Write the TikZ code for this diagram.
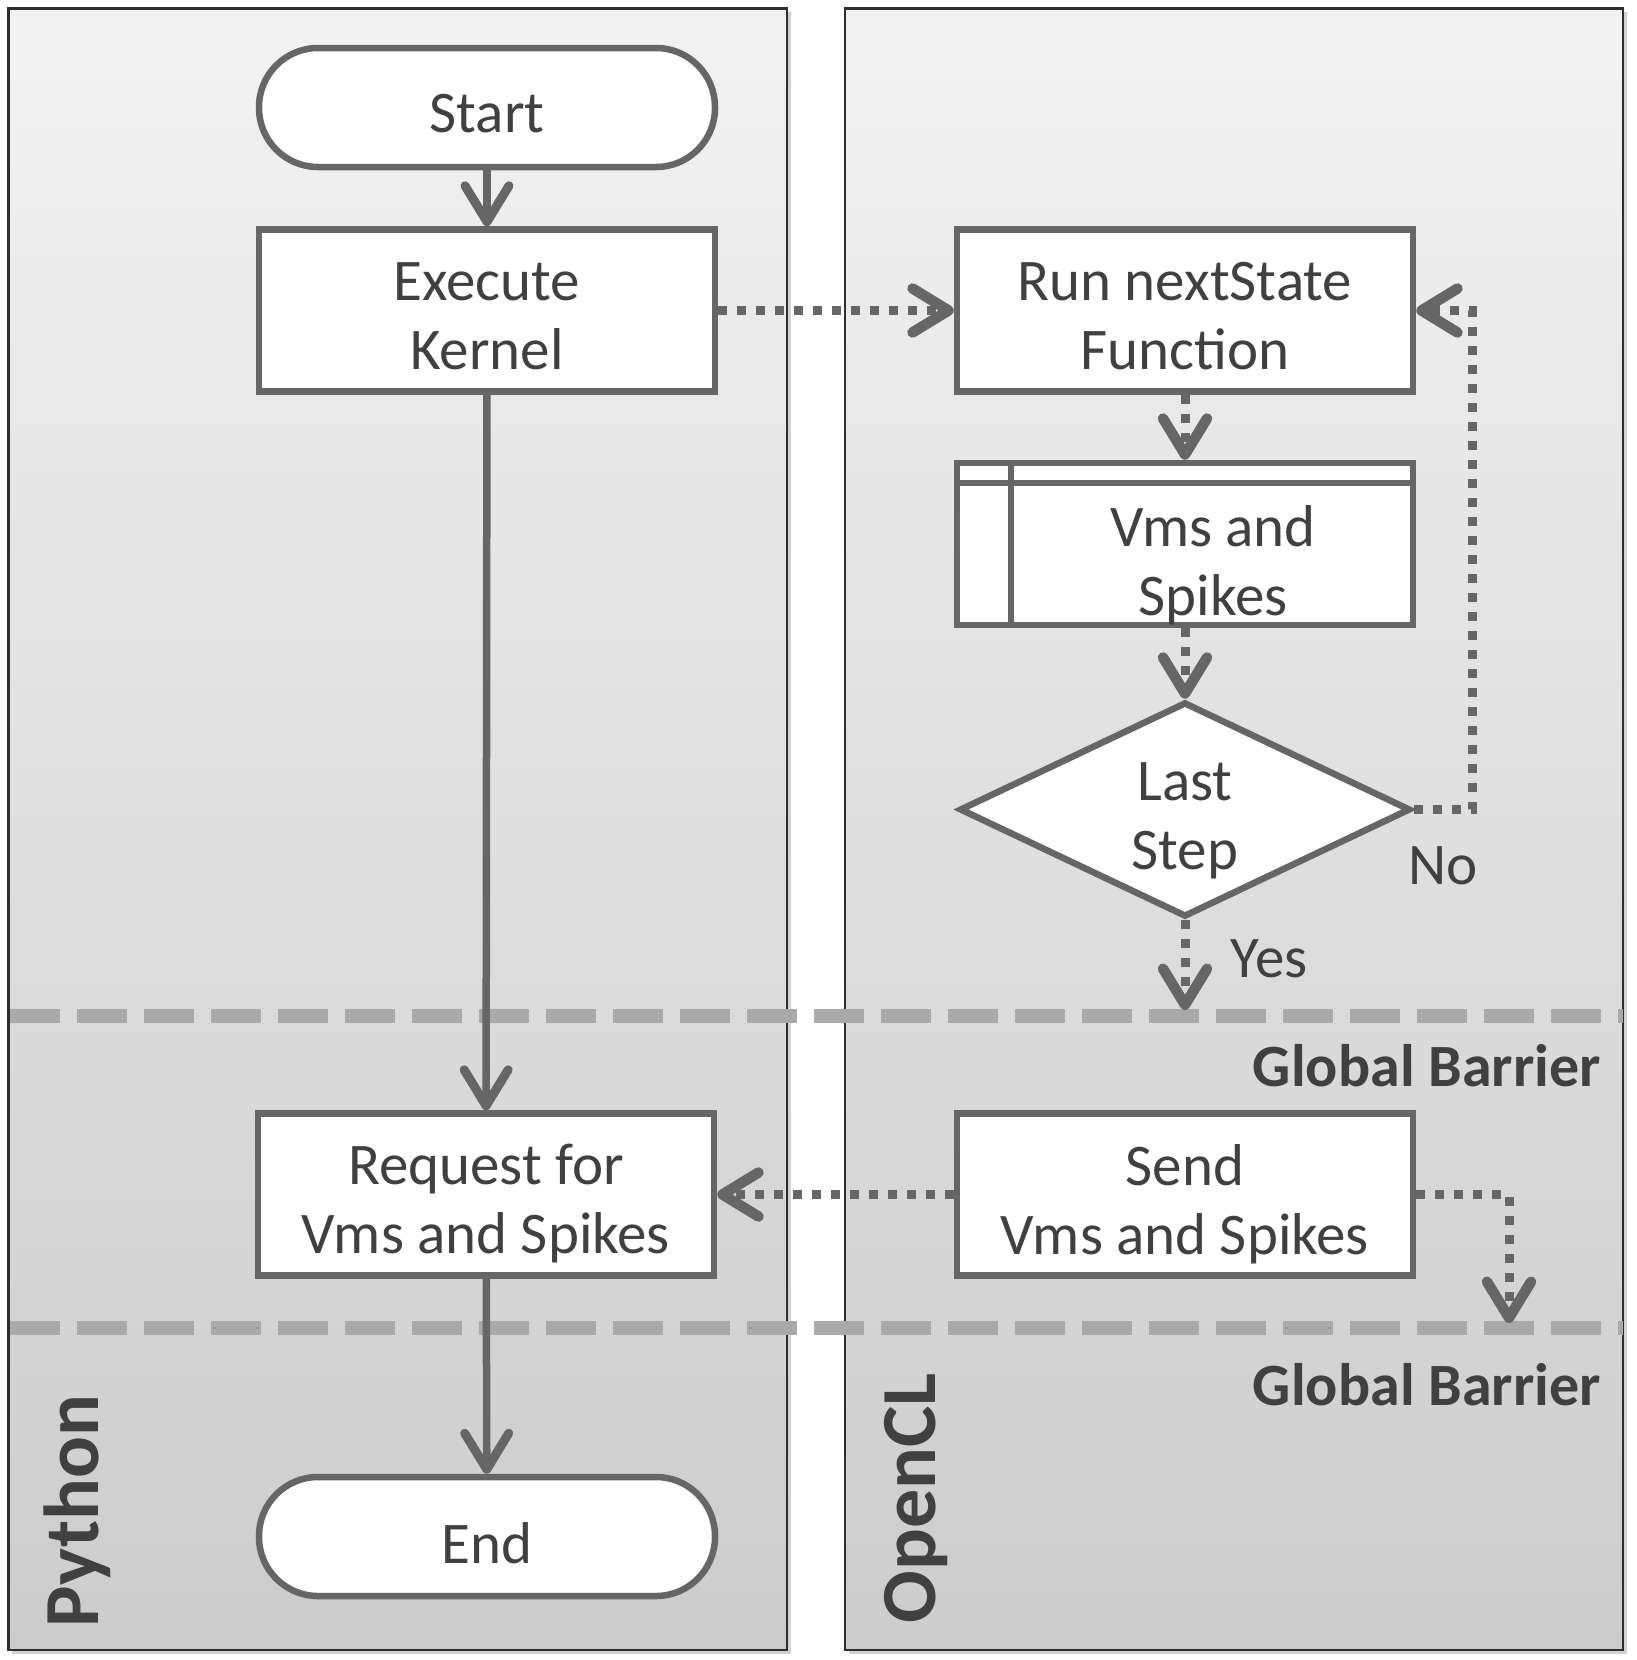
\documentclass[tikz,border=0pt]{standalone}
\usepackage{fontspec}
\setmainfont{Carlito}
\usetikzlibrary{arrows.meta,shapes.geometric,calc}
\definecolor{linegray}{HTML}{666666}
\definecolor{textgray}{HTML}{404040}
\definecolor{barriergray}{HTML}{A9A9A9}
\definecolor{panelborder}{HTML}{2E2E2E}
\begin{document}
\begin{tikzpicture}[x=1pt,y=-1pt,
  every node/.style={text=textgray, font=\fontsize{59}{69}\selectfont},
  proc/.style={draw=linegray, line width=6.5pt, fill=white, minimum width=456pt, minimum height=162pt, inner sep=0pt},
  term/.style={proc, minimum height=119pt, rounded corners=59pt},
  ptext/.style={align=center, inner sep=0pt},
  boxline/.style={draw=linegray, line width=6pt},
  tip/.style={-{Straight Barb[length=36pt,width=44pt,round,line width=1.5pt 1]}},
  solidarrow/.style={draw=linegray, line width=7.5pt, tip},
  dotarrow/.style={draw=linegray, line width=9pt, dash pattern=on 9pt off 10pt, tip},
  panel/.style={top color=black!5, bottom color=black!20},
  panelframe/.style={draw=panelborder, line width=2.5pt},
  shadowbox/.style={fill=black!18},
  barrier/.style={draw=barriergray, line width=14pt, dash pattern=on 50pt off 17pt},
  barriertext/.style={font=\bfseries\fontsize{60}{64}\selectfont, anchor=east},
  lanetext/.style={font=\bfseries\fontsize{78}{80}\selectfont, rotate=90}
]
\fill[white] (0,0) rectangle (1636,1660);
\useasboundingbox (0,0) rectangle (1636,1660);
% panels
\fill[shadowbox] (12,12) rectangle (791,1654);
\fill[shadowbox] (849,12) rectangle (1627,1654);
\shade[panel] (8.5,8.5) rectangle (787,1650);
\draw[panelframe] (8.5,8.5) rectangle (787,1650);
\shade[panel] (845,8.5) rectangle (1623,1650);
\draw[panelframe] (845,8.5) rectangle (1623,1650);
% barriers
\draw[barrier] (10,1015.5) -- (1623,1015.5);
\draw[barrier] (10,1328) -- (1623,1328);
\node[barriertext] (gb1) at (1604,1066) {Global Barrier};
\node[barriertext] (gb2) at (1604,1385) {Global Barrier};
% lane labels
\node[lanetext] (py) at (77,1511) {Python};
\node[lanetext] (ocl) at (916,1498) {OpenCL};
% nodes
\node[term] (start) at (487,107.5) {};
\node[ptext] (starttext) at ($(start)+(0,6.4)$) {Start};
\node[proc] (exec) at (487,310.5) {};
\node[ptext] (exectext) at ($(exec)+(0,5.3)$) {Execute\\Kernel};
\node[proc] (run) at (1185,310.5) {};
\node[ptext] (runtext) at ($(run)+(0,5.3)$) {Run nextState\\Function};
\node[proc] (vms) at (1185,544) {};
\draw[boxline] ($(vms.north west)+(0,23)$) -- ($(vms.north east)+(0,23)$);
\draw[boxline] ($(vms.north west)+(57,0)$) -- ($(vms.south west)+(57,0)$);
\node[ptext] (vmstext) at (1213,565) {Vms and\\Spikes};
\node[diamond, draw=linegray, line width=6.5pt, fill=white, minimum width=451pt, minimum height=215pt, inner sep=0pt, aspect=2.1] (dec) at (1185,809.5) {};
\node[ptext] (dectext) at ($(dec)+(0,11)$) {Last\\Step};
\node[proc] (req) at (486,1194.5) {};
\node[ptext] (reqtext) at ($(req)+(0,9.5)$) {Request for\\Vms and Spikes};
\node[proc] (send) at (1185,1194.5) {};
\node[ptext] (sendtext) at ($(send)+(0,9.5)$) {Send\\Vms and Spikes};
\node[term] (end) at (487,1536.5) {};
\node[ptext] (endtext) at ($(end)+(0,6.4)$) {End};
% coordinates
\coordinate (noturn) at (1472,809.5);
\coordinate (yesend) at (1185,1010);
\coordinate (sendturn) at (1509,1194.5);
\coordinate (sendend) at (1509,1323);
% connectors
\draw[solidarrow] (start) -- (exec);
\draw[solidarrow] (exec) -- (req);
\draw[solidarrow] (req) -- (end);
\draw[dotarrow] (exec) -- (run);
\draw[dotarrow] (run) -- (vms);
\draw[dotarrow] (vms) -- (dec);
\draw[dotarrow] (dec.east) -- (noturn) |- (run.east);
\draw[dotarrow] (dec.south) -- (yesend);
\draw[dotarrow] (send) -- (req);
\draw[dotarrow] (send.east) -- (sendturn) -- (sendend);
% labels
\node (no) at (1443,866) {No};
\node (yes) at (1269,959) {Yes};
\end{tikzpicture}
\end{document}
